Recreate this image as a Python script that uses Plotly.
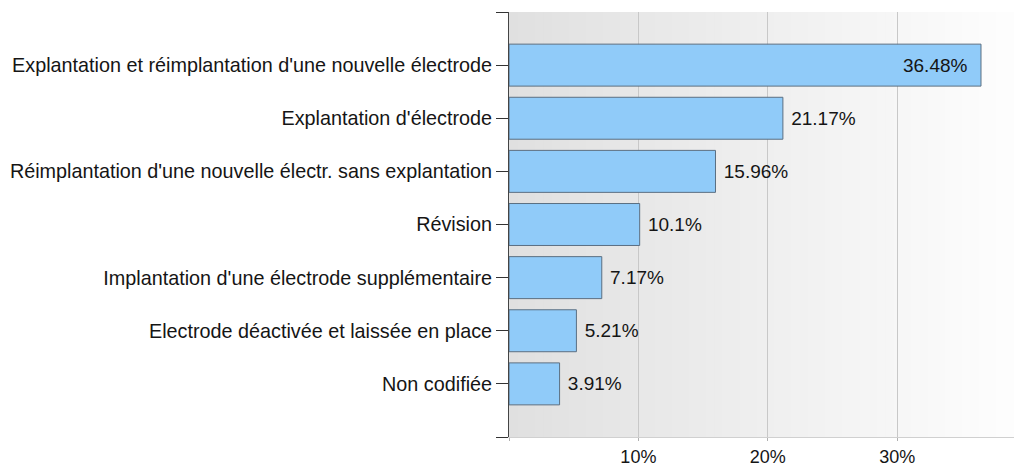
import plotly.graph_objects as go

categories = [
    "Explantation et réimplantation d'une nouvelle électrode",
    "Explantation d'électrode",
    "Réimplantation d'une nouvelle électr. sans explantation",
    "Révision",
    "Implantation d'une électrode supplémentaire",
    "Electrode déactivée et laissée en place",
    "Non codifiée",
]
values = [36.48, 21.17, 15.96, 10.1, 7.17, 5.21, 3.91]
value_labels = ["36.48%", "21.17%", "15.96%", "10.1%", "7.17%", "5.21%", "3.91%"]
x_tick_vals = [0, 10, 20, 30]
x_tick_text = ["", "10%", "20%", "30%"]

positions = list(range(len(categories)))
is_inside = [v > 30 for v in values]
text_pos = ["inside" if i else "outside" for i in is_inside]
NB = "\u00a0"
templates = [("%{text}" + NB * 2) if i else (NB + "%{text}") for i in is_inside]

FONT = "Liberation Sans, Arial, sans-serif"

fig = go.Figure()
fig.add_trace(go.Bar(
    x=values,
    y=positions,
    orientation="h",
    width=0.79,
    marker=dict(color="#90CBF9", line=dict(color="#5b6f82", width=1)),
    text=value_labels,
    texttemplate=templates,
    textposition=text_pos,
    insidetextanchor="end",
    textfont=dict(family=FONT, size=19, color="#151515"),
    cliponaxis=False,
    hoverinfo="skip",
))

# gradient background (light gray to white)
n = 60
shapes = []
for i in range(n):
    c = int(round(224 + (254 - 224) * (i / (n - 1))))
    shapes.append(dict(
        type="rect", xref="x domain", yref="y domain",
        x0=i / n, x1=(i + 1) / n + 0.002, y0=0, y1=1,
        fillcolor=f"rgb({c},{c},{c})", line=dict(width=0), layer="below",
    ))

fig.update_layout(
    width=1014, height=460,
    margin=dict(l=501, r=0, t=4, b=31, autoexpand=False),
    paper_bgcolor="white",
    plot_bgcolor="rgba(0,0,0,0)",
    showlegend=False,
    shapes=shapes,
    font=dict(family=FONT, size=19, color="#151515"),
    xaxis=dict(
        range=[0, 39.65],
        tickvals=x_tick_vals,
        ticktext=x_tick_text,
        showgrid=True,
        gridcolor="#c8c8c8",
        gridwidth=1,
        zeroline=False,
        showline=True,
        linecolor="#d0d0d0",
        ticks="outside",
        ticklen=3,
        tickcolor="#b0b0b0",
        tickfont=dict(size=18, color="#151515"),
        automargin=False,
    ),
    yaxis=dict(
        range=[7, -1],
        tickvals=[-1] + positions + [7],
        ticktext=[""] + categories + [""],
        showgrid=False,
        zeroline=False,
        showline=True,
        linecolor="#444444",
        ticks="outside",
        ticklen=12,
        tickcolor="#333333",
        tickfont=dict(size=19.8, color="#151515"),
        automargin=False,
    ),
)

fig.write_html("out.html")
